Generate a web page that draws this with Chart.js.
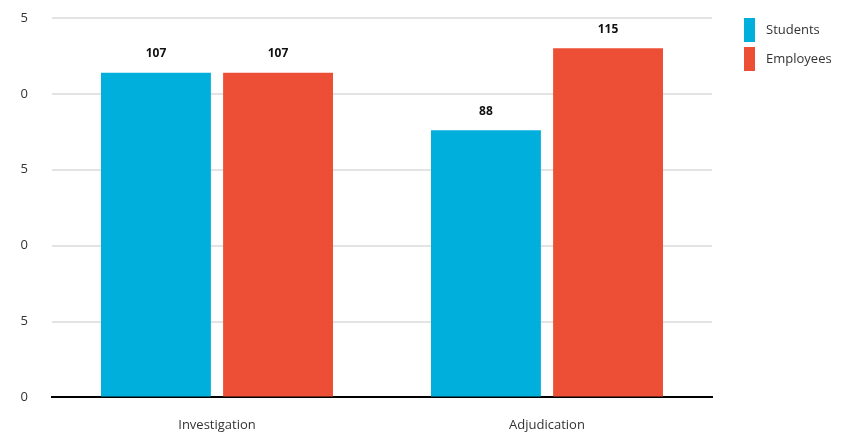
<!DOCTYPE html>
<html lang="en">
<head>
    <meta charset="UTF-8">
    <title>Investigation and Adjudication</title>
    <script src="https://cdn.jsdelivr.net/npm/chart.js"></script>
    <style>
        html, body { margin:0; padding:0; background:#fff; }
        .wrap { position:relative; width:850px; height:432px; }
        /* labels on the left are cut off in the original */
        .cut { position:absolute; left:0; top:0; width:20px; height:432px; background:#fff; }
    </style>
</head>
<body>
    <div class="wrap">
        <canvas id="caseChart" width="850" height="432"></canvas>
        <div class="cut"></div>
    </div>

    <script>
    // Data
    const categories = ['Investigation', 'Adjudication'];
    const students = [107, 88];
    const employees = [107, 115];
    const seriesNames = ['Students', 'Employees'];
    const yTicks = [0, 25, 50, 75, 100, 125];

    const BLUE = '#00afdb';
    const RED = '#ec4f35';
    const FONT = '"Open Sans", "Noto Sans", sans-serif';

    // value above each bar
    const barValues = {
        id: 'barValues',
        afterDatasetsDraw(chart) {
            const ctx = chart.ctx;
            ctx.save();
            ctx.font = 'bold 12px ' + FONT;
            ctx.fillStyle = '#111';
            ctx.textAlign = 'center';
            ctx.textBaseline = 'middle';
            chart.data.datasets.forEach((ds, i) => {
                chart.getDatasetMeta(i).data.forEach((bar, j) => {
                    ctx.fillText(ds.data[j], bar.x, bar.y - 19);
                });
            });
            ctx.restore();
        }
    };

    // legend to the right of the plot
    const sideLegend = {
        id: 'sideLegend',
        afterDraw(chart) {
            const ctx = chart.ctx;
            const x = chart.chartArea.right + 32;
            let y = chart.chartArea.top;
            ctx.save();
            ctx.font = '13px ' + FONT;
            ctx.textBaseline = 'middle';
            ctx.textAlign = 'left';
            chart.data.datasets.forEach(ds => {
                ctx.fillStyle = ds.backgroundColor;
                ctx.fillRect(x, y, 11, 24);
                ctx.fillStyle = '#333';
                ctx.fillText(ds.label, x + 22, y + 12);
                y += 29;
            });
            ctx.restore();
        }
    };

    new Chart(document.getElementById('caseChart'), {
        type: 'bar',
        data: {
            labels: categories,
            datasets: [
                { label: seriesNames[0], data: students, backgroundColor: BLUE },
                { label: seriesNames[1], data: employees, backgroundColor: RED }
            ]
        },
        options: {
            responsive: false,
            animation: false,
            layout: { padding: { top: 18, right: 138, bottom: -21, left: 0 } },
            datasets: { bar: { categoryPercentage: 0.74, barPercentage: 0.9 } },
            plugins: { legend: { display: false }, tooltip: { enabled: false } },
            scales: {
                x: {
                    grid: { display: false, drawTicks: false },
                    border: { display: true, color: '#000', width: 2 },
                    ticks: { color: '#333', font: { family: FONT, size: 13 }, padding: 20 }
                },
                y: {
                    min: 0,
                    max: 125,
                    afterBuildTicks(scale) { scale.ticks = yTicks.map(v => ({ value: v })); },
                    afterFit(scale) { scale.width = 52; },
                    // invisible tick marks give the gap between labels and grid
                    grid: { color: '#e3e3e3', lineWidth: 2, drawTicks: true, tickLength: 24, tickColor: 'rgba(0,0,0,0)' },
                    border: { display: false },
                    ticks: { color: '#333', font: { family: FONT, size: 13 }, padding: 0 }
                }
            }
        },
        plugins: [barValues, sideLegend]
    });
    </script>
</body>
</html>
